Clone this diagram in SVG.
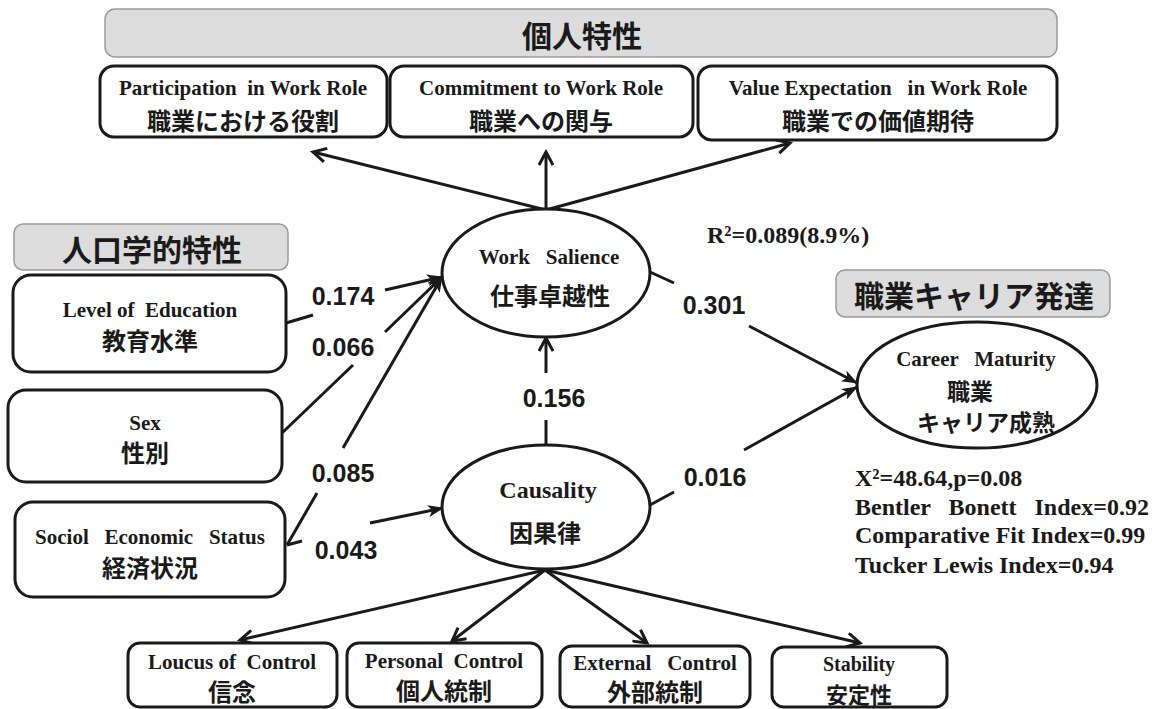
<svg xmlns="http://www.w3.org/2000/svg" width="1155" height="709" viewBox="0 0 1155 709">
<defs>
<style>
.box{fill:#fff;stroke:#1a1a1a;stroke-width:3}
.ell{fill:#fff;stroke:#1a1a1a;stroke-width:3}
.ban{fill:#dcdcdc;stroke:#9a9a9a;stroke-width:1.5}
.ln{fill:none;stroke:#1a1a1a;stroke-width:3}
.en{font-family:"Liberation Serif","Times New Roman",serif;font-weight:bold;font-size:21px;fill:#1a1a1a;white-space:pre}
.jp{font-family:"Noto Sans CJK JP",sans-serif;font-weight:bold;font-size:24px;fill:#1a1a1a}
.ttl{font-family:"Noto Sans CJK JP",sans-serif;font-weight:bold;font-size:30px;fill:#1a1a1a}
.num{font-family:"Liberation Sans",Arial,sans-serif;font-weight:bold;font-size:25px;fill:#1a1a1a}
.st{font-family:"Liberation Serif","Times New Roman",serif;font-weight:bold;font-size:24px;fill:#1a1a1a;white-space:pre}
</style>
<marker id="fa" markerUnits="userSpaceOnUse" markerWidth="16" markerHeight="12" refX="15" refY="6" orient="auto">
<path d="M0,0 L16,6 L0,12 L4,6 z" fill="#1a1a1a"/>
</marker>
<marker id="oa" markerUnits="userSpaceOnUse" markerWidth="18" markerHeight="16" refX="15" refY="8" orient="auto">
<path d="M2,1 L15,8 L2,15" fill="none" stroke="#1a1a1a" stroke-width="3"/>
</marker>
</defs>

<g id="banner-top">
<rect class="ban" x="105" y="9" width="952" height="48" rx="10"/>
<text class="ttl" x="582" y="34" text-anchor="middle" dominant-baseline="central">個人特性</text>
</g>
<g id="banner-demo">
<rect class="ban" x="14" y="224" width="274" height="46" rx="9"/>
<text class="ttl" x="152" y="248" text-anchor="middle" dominant-baseline="central">人口学的特性</text>
</g>
<g id="banner-career">
<rect class="ban" x="836" y="270" width="274" height="47" rx="9"/>
<text class="ttl" x="974" y="294" text-anchor="middle" dominant-baseline="central">職業キャリア発達</text>
</g>

<g id="connectors">
<path class="ln" d="M546,210 L313,152" marker-end="url(#oa)"/>
<path class="ln" d="M546,210 L546,152" marker-end="url(#oa)"/>
<path class="ln" d="M546,210 L790,143" marker-end="url(#oa)"/>
<path class="ln" d="M286,323 L313,315"/>
<path class="ln" d="M385,290 L442,277" marker-end="url(#fa)"/>
<path class="ln" d="M282,433 L353,365"/>
<path class="ln" d="M385,332 L442,277" marker-end="url(#fa)"/>
<path class="ln" d="M287,545 L317,493"/>
<path class="ln" d="M343,448 L442,277" marker-end="url(#fa)"/>
<path class="ln" d="M287,545 L302,541"/>
<path class="ln" d="M370,523 L443,508" marker-end="url(#fa)"/>
<path class="ln" d="M546,445 L546,420"/>
<path class="ln" d="M546,373 L546,338" marker-end="url(#oa)"/>
<path class="ln" d="M650,272 L674,283"/>
<path class="ln" d="M749,326 L857,383" marker-end="url(#fa)"/>
<path class="ln" d="M650,505 L674,492"/>
<path class="ln" d="M744,450 L857,387" marker-end="url(#fa)"/>
<path class="ln" d="M545,570 L240,640" marker-end="url(#oa)"/>
<path class="ln" d="M545,570 L452,641" marker-end="url(#oa)"/>
<path class="ln" d="M545,570 L647,643" marker-end="url(#oa)"/>
<path class="ln" d="M545,570 L860,643" marker-end="url(#oa)"/>
</g>

<g id="edge-labels">
<text class="num" x="343" y="296" text-anchor="middle" dominant-baseline="central">0.174</text>
<text class="num" x="343" y="347" text-anchor="middle" dominant-baseline="central">0.066</text>
<text class="num" x="343" y="473" text-anchor="middle" dominant-baseline="central">0.085</text>
<text class="num" x="346" y="550" text-anchor="middle" dominant-baseline="central">0.043</text>
<text class="num" x="554" y="398" text-anchor="middle" dominant-baseline="central">0.156</text>
<text class="num" x="714" y="305" text-anchor="middle" dominant-baseline="central">0.301</text>
<text class="num" x="715" y="477" text-anchor="middle" dominant-baseline="central">0.016</text>
</g>

<g id="participation">
<rect class="box" x="100" y="66" width="287" height="71" rx="14"/>
<text class="en" x="243" y="88" text-anchor="middle" dominant-baseline="central">Participation  in Work Role</text>
<text class="jp" x="243" y="119" text-anchor="middle" dominant-baseline="central">職業における役割</text>
</g>
<g id="commitment">
<rect class="box" x="390" y="66" width="303" height="71" rx="14"/>
<text class="en" x="541" y="88" text-anchor="middle" dominant-baseline="central">Commitment to Work Role</text>
<text class="jp" x="541" y="119" text-anchor="middle" dominant-baseline="central">職業への関与</text>
</g>
<g id="value">
<rect class="box" x="698" y="66" width="359" height="74" rx="14"/>
<text class="en" x="878" y="88" text-anchor="middle" dominant-baseline="central">Value Expectation   in Work Role</text>
<text class="jp" x="878" y="119" text-anchor="middle" dominant-baseline="central">職業での価値期待</text>
</g>

<g id="education">
<rect class="box" x="13" y="275" width="273" height="97" rx="18"/>
<text class="en" x="150" y="310" text-anchor="middle" dominant-baseline="central">Level of  Education</text>
<text class="jp" x="150" y="339" text-anchor="middle" dominant-baseline="central">教育水準</text>
</g>
<g id="sex">
<rect class="box" x="8" y="390" width="274" height="92" rx="18"/>
<text class="en" x="145" y="423" text-anchor="middle" dominant-baseline="central">Sex</text>
<text class="jp" x="145" y="451" text-anchor="middle" dominant-baseline="central">性別</text>
</g>
<g id="ses">
<rect class="box" x="15" y="502" width="270" height="95" rx="18"/>
<text class="en" x="150" y="537" text-anchor="middle" dominant-baseline="central">Sociol   Economic   Status</text>
<text class="jp" x="150" y="566" text-anchor="middle" dominant-baseline="central">経済状況</text>
</g>

<g id="work-salience">
<ellipse class="ell" cx="546" cy="273" rx="104" ry="64"/>
<text class="en" x="549" y="257" text-anchor="middle" dominant-baseline="central">Work   Salience</text>
<text class="jp" x="550" y="294" text-anchor="middle" dominant-baseline="central">仕事卓越性</text>
</g>
<g id="causality">
<ellipse class="ell" cx="546" cy="507" rx="104" ry="62"/>
<text class="en" x="548" y="490" text-anchor="middle" dominant-baseline="central" style="font-size:24px">Causality</text>
<text class="jp" x="545" y="531" text-anchor="middle" dominant-baseline="central">因果律</text>
</g>
<g id="career-maturity">
<ellipse class="ell" cx="977" cy="385" rx="120" ry="63"/>
<text class="en" x="976" y="359" text-anchor="middle" dominant-baseline="central">Career   Maturity</text>
<text class="jp" x="970" y="390" text-anchor="middle" dominant-baseline="central" style="font-size:23px">職業</text>
<text class="jp" x="986" y="421" text-anchor="middle" dominant-baseline="central" style="font-size:23px">キャリア成熟</text>
</g>

<g id="loucus">
<rect class="box" x="128" y="643" width="209" height="64" rx="12"/>
<text class="en" x="232" y="662" text-anchor="middle" dominant-baseline="central">Loucus of  Control</text>
<text class="jp" x="232" y="690" text-anchor="middle" dominant-baseline="central">信念</text>
</g>
<g id="personal">
<rect class="box" x="347" y="643" width="195" height="64" rx="12"/>
<text class="en" x="444" y="661" text-anchor="middle" dominant-baseline="central">Personal  Control</text>
<text class="jp" x="444" y="689" text-anchor="middle" dominant-baseline="central">個人統制</text>
</g>
<g id="external">
<rect class="box" x="560" y="646" width="190" height="61" rx="12"/>
<text class="en" x="655" y="663" text-anchor="middle" dominant-baseline="central">External   Control</text>
<text class="jp" x="655" y="690" text-anchor="middle" dominant-baseline="central">外部統制</text>
</g>
<g id="stability">
<rect class="box" x="772" y="647" width="175" height="60" rx="12"/>
<text class="en" x="859" y="664" text-anchor="middle" dominant-baseline="central" style="font-size:20px">Stability</text>
<text class="jp" x="859" y="693" text-anchor="middle" dominant-baseline="central" style="font-size:22px">安定性</text>
</g>

<g id="stats">
<text class="st" x="707" y="235" dominant-baseline="central">R²=0.089(8.9%)</text>
<text class="st" x="855" y="478" dominant-baseline="central">X²=48.64,p=0.08</text>
<text class="st" x="855" y="507" dominant-baseline="central">Bentler   Bonett   Index=0.92</text>
<text class="st" x="855" y="535" dominant-baseline="central">Comparative Fit Index=0.99</text>
<text class="st" x="855" y="565" dominant-baseline="central">Tucker Lewis Index=0.94</text>
</g>
</svg>
